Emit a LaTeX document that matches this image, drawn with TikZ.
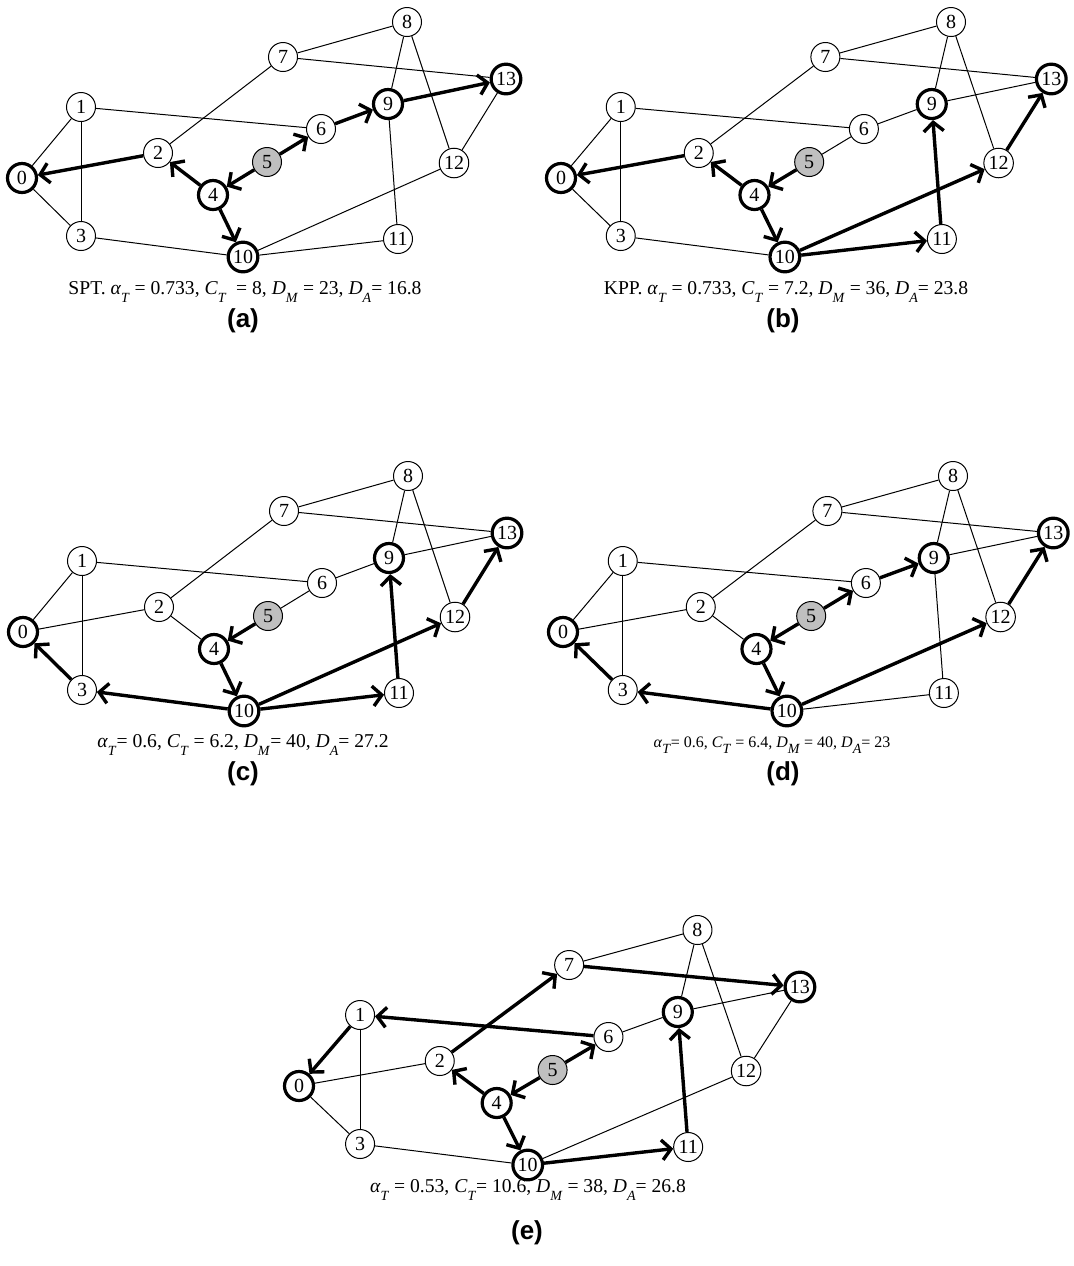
\documentclass[tikz,border=0pt]{standalone}
\usepackage{fontspec}
\setmainfont{Liberation Serif}
\newfontfamily\labelfont{Liberation Sans}
\usetikzlibrary{arrows.meta}

% one copy of the network, node names get the panel prefix
\newcommand{\netnodes}[1]{%
  \node[dst] (#10)  at (0,0)     {0};
  \node[vtx] (#11)  at (59,-71)  {1};
  \node[vtx] (#12)  at (136,-25) {2};
  \node[vtx] (#13)  at (59,58)   {3};
  \node[dst] (#14)  at (191,17)  {4};
  \node[src] (#15)  at (245,-16) {5};
  \node[vtx] (#16)  at (299,-49) {6};
  \node[vtx] (#17)  at (261,-121) {7};
  \node[vtx] (#18)  at (385,-156) {8};
  \node[dst] (#19)  at (366,-74) {9};
  \node[dst] (#110) at (221,79)  {10};
  \node[vtx] (#111) at (376,61)  {11};
  \node[vtx] (#112) at (432,-15) {12};
  \node[dst] (#113) at (484,-99) {13};
}
\newcommand{\vr}[2]{\textit{#1}\raisebox{-0.4em}{\fontsize{7}{7}\selectfont\textit{#2}}}

\begin{document}
\begin{tikzpicture}[
  x=0.5pt, y=-0.5pt,
  vtx/.style = {draw, circle, minimum size=14.5pt, inner sep=1pt, line width=0.5pt, fill=white,
                font=\fontsize{10}{10}\selectfont},
  dst/.style = {vtx, line width=1.6pt},
  src/.style = {vtx, fill=gray!50},
  link/.style = {line width=0.5pt},
  arr/.style = {-{Straight Barb[length=4.5pt, width=10pt]}, line width=1.7pt},
  captext/.style = {font=\fontsize{9.8}{11}\selectfont},
  panlabel/.style = {font=\labelfont\bfseries\fontsize{13}{15}\selectfont}
]
\useasboundingbox (0,0) rectangle (1074,1266);

% Panel (a)
\begin{scope}[shift={(22,178)}]
  \netnodes{a}
\end{scope}
\foreach \u/\v in {0/1, 0/3, 1/3, 1/6, 2/7, 3/10, 7/8, 7/13, 8/9, 8/12, 9/11, 10/11, 10/12, 12/13}
  \draw[link] (a\u) -- (a\v);
\foreach \u/\v in {2/0, 4/2, 5/4, 4/10, 5/6, 6/9, 9/13}
  \draw[arr] (a\u) -- (a\v);
\node[captext] (capa) at (245,292) {SPT. \vr{α}{T} = 0.733, \vr{C}{T} \ = 8, \vr{D}{M} = 23, \vr{D}{A}= 16.8};
\node[panlabel] (laba) at (243,321) {(a)};

% Panel (b)
\begin{scope}[shift={(561,178)}, xscale=1.013]
  \netnodes{b}
\end{scope}
\foreach \u/\v in {0/1, 0/3, 1/3, 1/6, 2/7, 3/10, 5/6, 6/9, 7/8, 7/13, 8/9, 8/12, 9/13}
  \draw[link] (b\u) -- (b\v);
\foreach \u/\v in {2/0, 4/2, 5/4, 4/10, 10/12, 10/11, 11/9, 12/13}
  \draw[arr] (b\u) -- (b\v);
\node[captext] (capb) at (786,292) {KPP. \vr{α}{T} = 0.733, \vr{C}{T} = 7.2, \vr{D}{M} = 36, \vr{D}{A}= 23.8};
\node[panlabel] (labb) at (783,321) {(b)};

% Panel (c)
\begin{scope}[shift={(23,632)}]
  \netnodes{c}
\end{scope}
\foreach \u/\v in {0/1, 0/2, 1/3, 1/6, 2/4, 2/7, 5/6, 6/9, 7/8, 7/13, 8/9, 8/12, 9/13}
  \draw[link] (c\u) -- (c\v);
\foreach \u/\v in {3/0, 10/3, 5/4, 4/10, 10/11, 10/12, 11/9, 12/13}
  \draw[arr] (c\u) -- (c\v);
\node[captext] (capc) at (243,745) {\vr{α}{T}= 0.6, \vr{C}{T} = 6.2, \vr{D}{M}= 40, \vr{D}{A}= 27.2};
\node[panlabel] (labc) at (243,774) {(c)};

% Panel (d)
\begin{scope}[shift={(563,632)}, xscale=1.013]
  \netnodes{d}
\end{scope}
\foreach \u/\v in {0/1, 0/2, 1/3, 1/6, 2/4, 2/7, 7/8, 7/13, 8/9, 8/12, 9/11, 9/13, 10/11}
  \draw[link] (d\u) -- (d\v);
\foreach \u/\v in {3/0, 10/3, 5/4, 5/6, 6/9, 4/10, 10/12, 12/13}
  \draw[arr] (d\u) -- (d\v);
\node[captext, font=\fontsize{8}{9}\selectfont] (capd) at (772,745) {\vr{α}{T}= 0.6, \vr{C}{T} = 6.4, \vr{D}{M} = 40, \vr{D}{A}= 23};
\node[panlabel] (labd) at (783,774) {(d)};

% Panel (e)
\begin{scope}[shift={(299,1086)}, xscale=1.035]
  \netnodes{e}
\end{scope}
\foreach \u/\v in {0/2, 0/3, 1/3, 3/10, 6/9, 7/8, 8/9, 8/12, 9/13, 10/12, 12/13}
  \draw[link] (e\u) -- (e\v);
\foreach \u/\v in {1/0, 6/1, 2/7, 7/13, 4/2, 5/4, 5/6, 4/10, 10/11, 11/9}
  \draw[arr] (e\u) -- (e\v);
\node[captext] (cape) at (528,1190) {\vr{α}{T} = 0.53, \vr{C}{T}= 10.6, \vr{D}{M} = 38, \vr{D}{A}= 26.8};
\node[panlabel] (labe) at (527,1233) {(e)};

\end{tikzpicture}
\end{document}
